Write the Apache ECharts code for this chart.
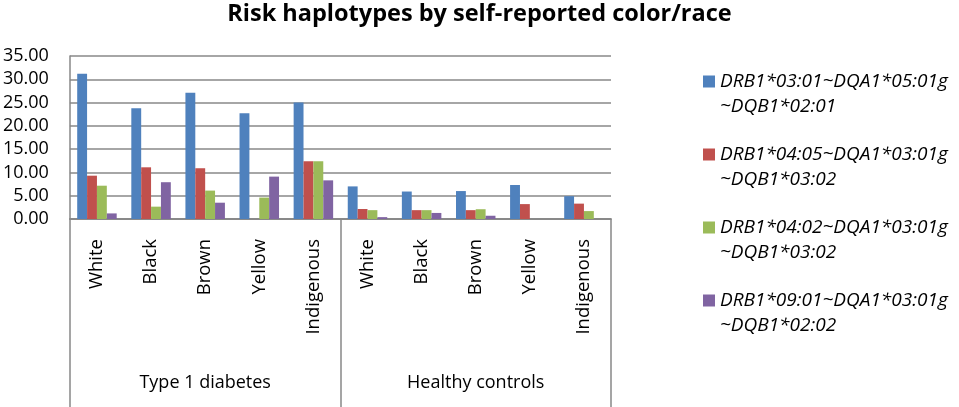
<!DOCTYPE html>
<html>
<head>
<meta charset="utf-8">
<script src="https://cdn.jsdelivr.net/npm/echarts@6/dist/echarts.min.js"></script>
<style>html,body{margin:0;padding:0;background:#fff}#c{width:959px;height:407px}</style>
</head>
<body>
<div id="c"></div>
<script>
const categories = ['White','Black','Brown','Yellow','Indigenous','White','Black','Brown','Yellow','Indigenous'];
const groups = ['Type 1 diabetes','Healthy controls'];
const seriesNames = [
  'DRB1*03:01~DQA1*05:01g\n~DQB1*02:01',
  'DRB1*04:05~DQA1*03:01g\n~DQB1*03:02',
  'DRB1*04:02~DQA1*03:01g\n~DQB1*03:02',
  'DRB1*09:01~DQA1*03:01g\n~DQB1*02:02'
];
const s1 = [31.2, 23.8, 27.1, 22.7, 25.0, 7.0, 5.9, 6.0, 7.3, 4.9];
const s2 = [9.3, 11.1, 10.9, 0, 12.4, 2.15, 1.9, 1.9, 3.2, 3.3];
const s3 = [7.15, 2.65, 6.1, 4.6, 12.4, 1.9, 1.9, 2.1, 0, 1.7];
const s4 = [1.2, 7.9, 3.5, 9.1, 8.3, 0.4, 1.3, 0.7, 0, 0];
const colors = ['#4F81BD','#C0504D','#9BBB59','#8064A2'];
const yTicks = {min: 0, max: 35, interval: 5};

const font = 'Open Sans';
const chart = echarts.init(document.getElementById('c'));
const values = [s1, s2, s3, s4];
chart.setOption({
  animation: false,
  title: {
    text: 'Risk haplotypes by self-reported color/race',
    left: 'center', top: -3,
    textStyle: {fontFamily: font, fontWeight: 'bold', fontSize: 23.5, color: '#000'}
  },
  legend: {
    orient: 'vertical',
    left: 698, top: 39,
    itemWidth: 12, itemHeight: 12, itemGap: -2,
    icon: 'rect',
    formatter: n => '\n' + n,
    textStyle: {fontFamily: font, fontStyle: 'italic', fontSize: 19, color: '#000', lineHeight: 25},
    data: seriesNames
  },
  grid: {left: 68, right: 348, top: 56, bottom: 188},
  xAxis: [
    {
      type: 'category', data: categories, position: 'bottom',
      axisLine: {show: true, lineStyle: {color: '#888', width: 1.5}},
      axisTick: {show: false},
      axisLabel: {rotate: 90, margin: 20, interval: 0, fontFamily: font, fontSize: 18.5, color: '#000'}
    },
    {
      type: 'category', data: groups, position: 'bottom',
      axisLine: {show: true, lineStyle: {color: '#888', width: 1.5}},
      axisTick: {show: true, length: 188, interval: 0, lineStyle: {color: '#888', width: 1.5}},
      axisLabel: {margin: 155, interval: 0, fontFamily: font, fontSize: 18, color: '#000'}
    }
  ],
  yAxis: {
    type: 'value', min: yTicks.min, max: yTicks.max, interval: yTicks.interval,
    axisLine: {show: true, lineStyle: {color: '#888', width: 1.5}},
    axisTick: {show: false},
    splitLine: {lineStyle: {color: '#888', width: 1.5}},
    axisLabel: {margin: 21, fontFamily: font, fontSize: 18, color: '#000', formatter: v => v.toFixed(2)}
  },
  series: values.map((d, i) => ({
    name: seriesNames[i], type: 'bar', data: d, xAxisIndex: 0,
    barGap: 0, barCategoryGap: '27%',
    itemStyle: {color: colors[i]}
  }))
});
</script>
</body>
</html>
